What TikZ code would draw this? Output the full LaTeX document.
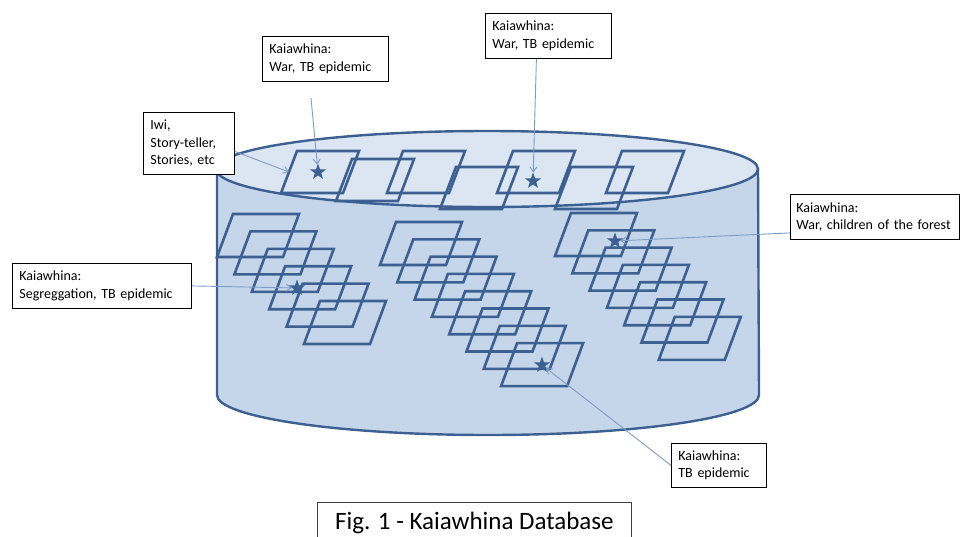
\documentclass[tikz,border=0pt]{standalone}
\usepackage{fontspec}
\setmainfont{Carlito}
\usetikzlibrary{shapes.geometric,arrows.meta}
\definecolor{dkb}{HTML}{3B6091}
\definecolor{bodyf}{HTML}{C6D6EA}
\definecolor{topf}{HTML}{DCE6F2}
\definecolor{lnc}{HTML}{7D9CC5}
\begin{document}
\begin{tikzpicture}[x=1pt,y=-1pt,
  lbl/.style={draw=black,line width=0.8pt,fill=white,font=\fontsize{14}{17.5}\selectfont,
    align=left,anchor=north west,inner xsep=7pt,inner ysep=0pt},
  pline/.style={draw=dkb,line width=2.6pt,line join=miter},
  starn/.style={star,star points=5,star point ratio=2.5,fill=dkb,minimum size=17pt,inner sep=0pt},
  conn/.style={draw=lnc,line width=0.9pt,-{Straight Barb[length=5pt,width=7pt]}},
  pga/.pic={\draw[pline] (0,0) -- (66,0) -- (50,43) -- (-16,43) -- cycle;},
  pgb/.pic={\draw[pline] (0,0) -- (62,0) -- (46,42) -- (-16,42) -- cycle;}]
\useasboundingbox (0,0) rectangle (960,536);
\fill[white] (0,0) rectangle (960,536);
% cylinder
\path[fill=bodyf,draw=dkb,line width=2.4pt] (217,169) -- (217,395)
  arc[start angle=180,end angle=0,x radius=271,y radius=40] -- (758,169);
\path[fill=topf,draw=dkb,line width=2.4pt] (487,169) ellipse [x radius=271,y radius=38];
% top row
\foreach \x in {297,403,513,622} \pic at (\x,151) {pgb};
\pic at (352,159) {pgb};
\pic at (456,167) {pgb};
\pic at (571,167) {pgb};
% groups
\foreach \i in {0,...,5} \pic at ({233+17.4*\i},{214+17.4*\i}) {pga};
\foreach \i in {0,...,7} \pic at ({396+17.3*\i},{222+17.3*\i}) {pga};
\foreach \i in {0,...,6} \pic at ({571+17.3*\i},{213+17.3*\i}) {pga};
% stars
\node[starn] (s1) at (318,172) {};
\node[starn] (s2) at (533,181) {};
\node[starn] (s3) at (297,288) {};
\node[starn] (s4) at (615,241) {};
\node[starn] (s5) at (542,365) {};
% labels
\node[lbl,text width=112pt,minimum height=45pt] (b1) at (262,36) {\mbox{Kaiawhina:}\\\mbox{War, TB epidemic}};
\node[lbl,text width=112pt,minimum height=45pt] (b2) at (485,13) {\mbox{Kaiawhina:}\\\mbox{War, TB epidemic}};
\node[lbl,text width=77pt,minimum height=62pt] (iwi) at (143,112) {\mbox{Iwi,}\\\mbox{Story-teller,}\\\mbox{Stories, etc}};
\node[lbl,text width=157pt,inner xsep=6pt,minimum height=45pt] (bR) at (790,194) {\mbox{Kaiawhina:}\\\mbox{War, children of the forest}};
\node[lbl,text width=165pt,minimum height=45pt] (bL) at (12,263) {\mbox{Kaiawhina:}\\\mbox{Segreggation, TB epidemic}};
\node[lbl,text width=81pt,minimum height=44pt] (bB) at (671,443) {\mbox{Kaiawhina:}\\\mbox{TB epidemic}};
\begin{scope}
\clip (0,0) rectangle (960,536);
\node[draw=black!75,line width=0.9pt,fill=white,anchor=north west,minimum width=314pt,minimum height=42pt,
  inner sep=0pt,font=\fontsize{25}{30}\selectfont] (cap) at (317,502) {Fig. 1 - Kaiawhina Database};
\end{scope}
% connectors
\coordinate (c1) at (311,98);
\coordinate (p1) at (289,172);
\draw[conn] (c1) -- (s1);
\draw[conn] ([xshift=-12pt]b2.south) -- (s2);
\draw[conn] ([yshift=-8pt]iwi.east) -- (p1);
\draw[conn] (bL.east) -- (s3);
\draw[conn] ([yshift=-16pt]bR.west) -- (s4);
\draw[conn] (bB.west) -- (s5);
\end{tikzpicture}
\end{document}
